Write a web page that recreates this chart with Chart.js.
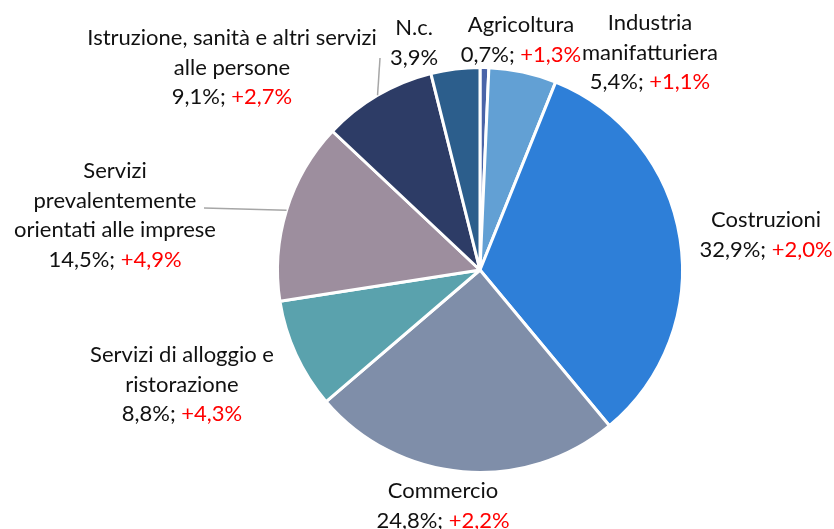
<!DOCTYPE html>
<html>
<head>
<meta charset="utf-8">
<script src="https://cdn.jsdelivr.net/npm/chart.js@4.4.1/dist/chart.umd.min.js"></script>
<style>
  html, body { margin: 0; padding: 0; background: #ffffff; }
  #wrap { width: 834px; height: 529px; }
</style>
</head>
<body>
<div id="wrap"><canvas id="pie" width="834" height="529"></canvas></div>
<script>
// Sectors, clockwise from 12 o'clock
const categories = [
  ['Agricoltura'],
  ['Industria', 'manifatturiera'],
  ['Costruzioni'],
  ['Commercio'],
  ['Servizi di alloggio e', 'ristorazione'],
  ['Servizi', 'prevalentemente', 'orientati alle imprese'],
  ['Istruzione, sanità e altri servizi', 'alle persone'],
  ['N.c.']
];
const shares = [0.7, 5.4, 32.9, 24.8, 8.8, 14.5, 9.1, 3.9];
const changes = [1.3, 1.1, 2.0, 2.2, 4.3, 4.9, 2.7, null];

const sliceColors = ['#4a64a8', '#62a0d4', '#2e7fd8', '#7f8ea9', '#5aa2ad', '#9d8e9e', '#2d3c66', '#2c5e8c'];

// label anchors (centre of first text line) and optional leader start
const labelPos = [
  { x: 521, y: 25 },
  { x: 650, y: 23 },
  { x: 766, y: 220 },
  { x: 443, y: 491 },
  { x: 182, y: 355 },
  { x: 115, y: 171 },
  { x: 232, y: 38 },
  { x: 414, y: 28 }
];
const leaders = { 5: { x: 204, y: 208 }, 6: { x: 380, y: 58 } };

const fmt = v => v.toFixed(1).replace('.', ',') + '%';

const labelsPlugin = {
  id: 'sliceLabels',
  afterDatasetsDraw(chart) {
    const ctx = chart.ctx;
    const arcs = chart.getDatasetMeta(0).data;
    ctx.save();

    // leader lines
    ctx.strokeStyle = '#a6a6a6';
    ctx.lineWidth = 1.5;
    Object.keys(leaders).forEach(k => {
      const a = arcs[k];
      const mid = (a.startAngle + a.endAngle) / 2;
      ctx.beginPath();
      ctx.moveTo(leaders[k].x, leaders[k].y);
      ctx.lineTo(a.x + Math.cos(mid) * a.outerRadius, a.y + Math.sin(mid) * a.outerRadius);
      ctx.stroke();
    });

    ctx.font = '22px Lato, "Open Sans", sans-serif';
    ctx.textBaseline = 'middle';
    ctx.textAlign = 'left';
    const lh = 29.5;
    categories.forEach((lines, i) => {
      const p = labelPos[i];
      let y = p.y;
      lines.forEach(line => {
        const w = ctx.measureText(line).width;
        ctx.fillStyle = '#111111';
        ctx.fillText(line, p.x - w / 2, y);
        y += lh;
      });
      const a = fmt(shares[i]);
      const b = changes[i] === null ? '' : '; ';
      const c = changes[i] === null ? '' : '+' + fmt(changes[i]);
      const wa = ctx.measureText(a + b).width;
      const wc = ctx.measureText(c).width;
      let x = p.x - (wa + wc) / 2;
      ctx.fillStyle = '#111111';
      ctx.fillText(a + b, x, y);
      ctx.fillStyle = '#ff0000';
      ctx.fillText(c, x + wa, y);
    });
    ctx.restore();
  }
};

const bgPlugin = {
  id: 'whiteBg',
  beforeDraw(chart) {
    const ctx = chart.ctx;
    ctx.save();
    ctx.fillStyle = '#ffffff';
    ctx.fillRect(0, 0, chart.width, chart.height);
    ctx.restore();
  }
};

new Chart(document.getElementById('pie').getContext('2d'), {
  type: 'pie',
  data: {
    labels: categories.map(l => l.join(' ')),
    datasets: [{
      data: shares,
      backgroundColor: sliceColors,
      borderColor: '#ffffff',
      borderWidth: 3
    }]
  },
  options: {
    responsive: false,
    animation: false,
    layout: { padding: { left: 276, right: 150, top: 66, bottom: 55 } },
    plugins: {
      legend: { display: false },
      tooltip: { enabled: false }
    }
  },
  plugins: [bgPlugin, labelsPlugin]
});
</script>
</body>
</html>
